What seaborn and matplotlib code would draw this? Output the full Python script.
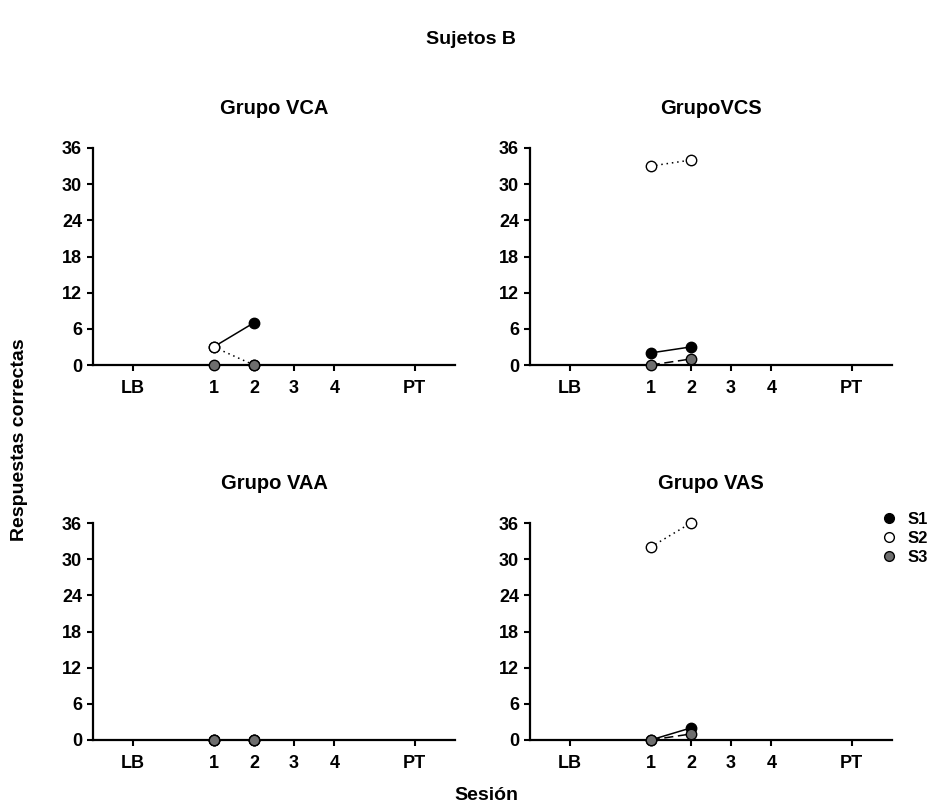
import matplotlib
matplotlib.use("Agg")
import matplotlib.pyplot as plt
from matplotlib.lines import Line2D
import seaborn as sns
import pandas as pd

sns.set_theme(style="white")
plt.rcParams['font.family'] = ['Liberation Sans', 'DejaVu Sans']
plt.rcParams['font.weight'] = 'bold'
plt.rcParams['text.color'] = 'black'

# ---- data ----
groups = ["Grupo VCA", "GrupoVCS", "Grupo VAA", "Grupo VAS"]
subjects = ["S1", "S2", "S3"]
sessions = [1, 2]
tick_pos = [-1, 1, 2, 3, 4, 6]
tick_labels = ["LB", "1", "2", "3", "4", "PT"]
y_ticks = [0, 6, 12, 18, 24, 30, 36]

vca_s1 = [3, 7]
vca_s2 = [3, 0]
vca_s3 = [0, 0]
vcs_s1 = [2, 3]
vcs_s2 = [33, 34]
vcs_s3 = [0, 1]
vaa_s1 = [0, 0]
vaa_s2 = [0, 0]
vaa_s3 = [0, 0]
vas_s1 = [0, 2]
vas_s2 = [32, 36]
vas_s3 = [0, 1]

values = {
    "Grupo VCA": [vca_s1, vca_s2, vca_s3],
    "GrupoVCS": [vcs_s1, vcs_s2, vcs_s3],
    "Grupo VAA": [vaa_s1, vaa_s2, vaa_s3],
    "Grupo VAS": [vas_s1, vas_s2, vas_s3],
}

rows = []
for g in groups:
    for s, vals in zip(subjects, values[g]):
        for x, v in zip(sessions, vals):
            rows.append({"grupo": g, "sujeto": s, "sesion": x, "resp": v})
df = pd.DataFrame(rows)

face = {"S1": "black", "S2": "white", "S3": "#6e6e6e"}
lstyle = {"S1": "-", "S2": (0, (1, 2.5)), "S3": (0, (6, 3))}

W, H = 941, 806
fig = plt.figure(figsize=(W / 100, H / 100), dpi=100)

ax_w = (455 - 93) / W
ax_h = (365 - 148) / H
positions = {
    "Grupo VCA": (93 / W, 1 - 365 / H),
    "GrupoVCS": (530 / W, 1 - 365 / H),
    "Grupo VAA": (93 / W, 1 - 740 / H),
    "Grupo VAS": (530 / W, 1 - 740 / H),
}
title_y = {"Grupo VCA": 108, "GrupoVCS": 108, "Grupo VAA": 483, "Grupo VAS": 483}

for g in groups:
    l, b = positions[g]
    ax = fig.add_axes([l, b, ax_w, ax_h])
    sub = df[df.grupo == g]
    for s in subjects:
        d = sub[sub.sujeto == s]
        sns.lineplot(data=d, x="sesion", y="resp", ax=ax, color="black",
                     linestyle=lstyle[s], linewidth=1.1, marker="o",
                     markersize=7.5, markerfacecolor=face[s],
                     markeredgecolor="black", markeredgewidth=1.0,
                     clip_on=False, zorder=5, legend=False)
    ax.set_xlim(-2, 7)
    ax.set_ylim(0, 36)
    ax.set_xticks(tick_pos)
    ax.set_xticklabels(tick_labels)
    ax.set_yticks(y_ticks)
    ax.set_xlabel("")
    ax.set_ylabel("")
    for sp in ["top", "right"]:
        ax.spines[sp].set_visible(False)
    for sp in ["left", "bottom"]:
        ax.spines[sp].set_color("black")
        ax.spines[sp].set_linewidth(1.6)
    ax.tick_params(axis="both", which="major", direction="out", length=4,
                   width=1.5, color="black", labelsize=13, left=True, bottom=True)
    ax.tick_params(axis="x", pad=7)
    ax.tick_params(axis="y", pad=4)
    for lab in ax.get_xticklabels() + ax.get_yticklabels():
        lab.set_fontweight("bold")
        lab.set_color("black")
    ax.grid(False)
    fig.text(l + ax_w / 2, 1 - title_y[g] / H, g, ha="center", va="center",
             fontsize=14.5, fontweight="bold", color="black")

fig.text(0.5, 1 - 40 / H, "Sujetos B", ha="center", va="center",
         fontsize=14, fontweight="bold", color="black")
fig.text(486 / W, 1 - 795 / H, "Sesión", ha="center", va="center",
         fontsize=14, fontweight="bold", color="black")
fig.text(20 / W, 1 - 440 / H, "Respuestas correctas", ha="center", va="center",
         rotation=90, fontsize=14, fontweight="bold", color="black")

handles = [Line2D([0], [0], linestyle="none", marker="o", markersize=7,
                  markerfacecolor=face[s], markeredgecolor="black",
                  markeredgewidth=1.0) for s in subjects]
leg = fig.legend(handles, subjects, loc="upper left",
                 bbox_to_anchor=(866 / W, 1 - 497 / H), frameon=False,
                 prop={"weight": "bold", "size": 12}, handletextpad=0.6,
                 labelspacing=0.25, handlelength=1.0)
for t in leg.get_texts():
    t.set_color("black")

fig.savefig("out.png", dpi=100)
